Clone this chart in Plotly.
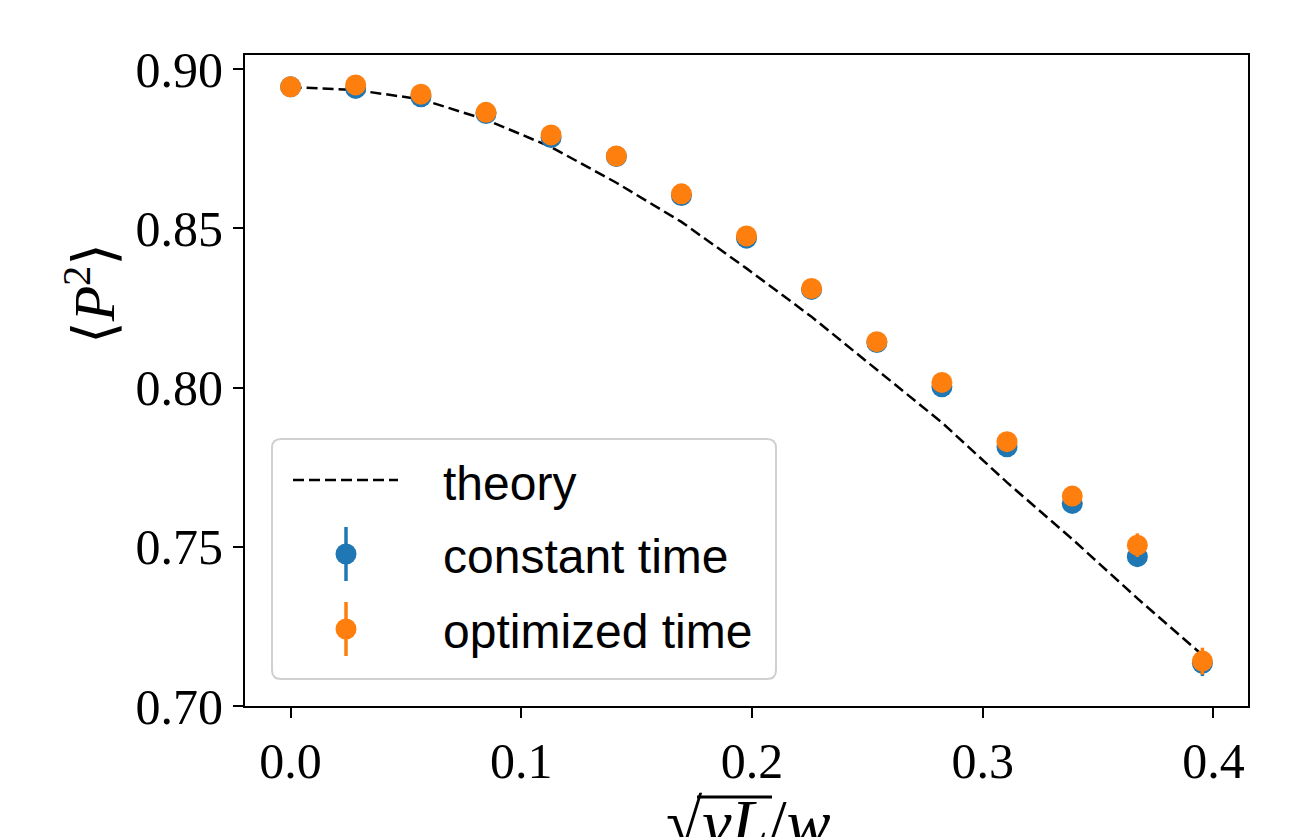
"""Mean squared polarisation versus sqrt(nu L)/w: theory against two time schemes."""

from __future__ import annotations

import plotly.graph_objects as go

# --- data ------------------------------------------------------------------
X_VALUES = [
    0.0000, 0.0282, 0.0565, 0.0847, 0.1129, 0.1412, 0.1694, 0.1976,
    0.2258, 0.2541, 0.2823, 0.3105, 0.3388, 0.3670, 0.3952,
]
THEORY = [
    0.8943, 0.8934, 0.8905, 0.8841, 0.8755, 0.8643, 0.8520, 0.8374,
    0.8222, 0.8057, 0.7890, 0.7702, 0.7524, 0.7338, 0.7160,
]
CONSTANT_TIME = [
    0.8944, 0.8939, 0.8913, 0.8860, 0.8785, 0.8725, 0.8603, 0.8469,
    0.8308, 0.8141, 0.8002, 0.7814, 0.7636, 0.7469, 0.7134,
]
CONSTANT_TIME_ERR = [
    0.0002, 0.0003, 0.0004, 0.0005, 0.0006, 0.0008, 0.0009, 0.0011,
    0.0013, 0.0015, 0.0018, 0.0021, 0.0025, 0.0031, 0.0040,
]
OPTIMIZED_TIME = [
    0.8944, 0.8950, 0.8921, 0.8864, 0.8793, 0.8727, 0.8608, 0.8476,
    0.8311, 0.8144, 0.8016, 0.7830, 0.7659, 0.7505, 0.7141,
]
OPTIMIZED_TIME_ERR = [
    0.0001, 0.0001, 0.0003, 0.0004, 0.0005, 0.0007, 0.0008, 0.0010,
    0.0012, 0.0014, 0.0017, 0.0020, 0.0024, 0.0037, 0.0042,
]
X_TICKS = [0.0, 0.1, 0.2, 0.3, 0.4]
Y_TICKS = [0.70, 0.75, 0.80, 0.85, 0.90]

LEGEND_LABELS = ["theory", "constant time", "optimized time"]

# --- styling ----------------------------------------------------------------
_BLUE = "#1f77b4"
_ORANGE = "#ff7f0e"
# the page body adds an 8px margin, so the figure itself is 8px smaller
_PAGE_OFFSET = 8
_WIDTH, _HEIGHT = 1312 - _PAGE_OFFSET, 837 - _PAGE_OFFSET
# plot area in screenshot pixels
_LEFT, _RIGHT, _TOP, _BOTTOM = 245, 1248, 55, 706
_SERIF = "Liberation Serif, DejaVu Serif, serif"
_SANS = "Liberation Sans, Arial, sans-serif"
_TICK_SIZE = 50
_LEGEND_SIZE = 48
_MARKER_SIZE = 21
_DASH = "11px,5px"


def _px(x: float) -> float:
    """Screenshot pixel column -> paper x."""
    return (x - _LEFT) / (_RIGHT - _LEFT)


def _py(y: float) -> float:
    """Screenshot pixel row -> paper y."""
    return (_BOTTOM - y) / (_BOTTOM - _TOP)


def _rounded_box(x0: float, y0: float, x1: float, y1: float, r: float) -> str:
    # pixel corners in, paper-space svg path out
    pts = [
        ("M", x0 + r, y0), ("L", x1 - r, y0), ("Q", x1, y0, x1, y0 + r),
        ("L", x1, y1 - r), ("Q", x1, y1, x1 - r, y1), ("L", x0 + r, y1),
        ("Q", x0, y1, x0, y1 - r), ("L", x0, y0 + r), ("Q", x0, y0, x0 + r, y0),
    ]
    parts = []
    for cmd, *coords in pts:
        xy = []
        for i in range(0, len(coords), 2):
            xy.append(f"{_px(coords[i]):.5f},{_py(coords[i + 1]):.5f}")
        parts.append(cmd + " ".join(xy))
    return " ".join(parts) + " Z"


def _paper_line(x0, y0, x1, y1, color, width, dash=None) -> dict:
    line = {"color": color, "width": width}
    if dash:
        line["dash"] = dash
    return {
        "type": "line",
        "xref": "paper",
        "yref": "paper",
        "x0": _px(x0),
        "x1": _px(x1),
        "y0": _py(y0),
        "y1": _py(y1),
        "line": line,
    }


def _legend_shapes() -> list[dict]:
    shapes = [
        {
            "type": "path",
            "xref": "paper",
            "yref": "paper",
            "path": _rounded_box(272, 439, 776, 679, 9),
            "line": {"color": "#d0d0d0", "width": 2},
            "fillcolor": "rgba(255,255,255,0.8)",
        },
        _paper_line(293, 480, 398, 480, "black", 2.5, _DASH),
    ]
    for cy, color in ((554, _BLUE), (629, _ORANGE)):
        shapes.append(_paper_line(346, cy + 27, 346, cy - 27, color, 3.5))
        shapes.append(
            {
                "type": "circle",
                "xref": "paper",
                "yref": "paper",
                "x0": _px(346 - 10.5),
                "x1": _px(346 + 10.5),
                "y0": _py(cy + 10.5),
                "y1": _py(cy - 10.5),
                "fillcolor": color,
                "line": {"width": 0},
            }
        )
    # overline of the square root in the x title
    shapes.append(_paper_line(697, 797, 772, 797, "black", 3))
    return shapes


def _legend_annotations() -> list[dict]:
    return [
        {
            "text": label,
            "xref": "paper",
            "yref": "paper",
            "x": _px(441),
            "y": _py(cy),
            "xanchor": "left",
            "yanchor": "middle",
            "showarrow": False,
            "font": {"family": _SANS, "size": _LEGEND_SIZE, "color": "black"},
        }
        for label, cy in zip(LEGEND_LABELS, (483, 556, 631), strict=True)
    ]


def _axis_titles() -> list[dict]:
    return [
        {
            "text": "⟨<i>P</i><sup>2</sup>⟩",
            "xref": "paper",
            "yref": "paper",
            "x": _px(90),
            "y": _py(294),
            "xanchor": "center",
            "yanchor": "middle",
            "textangle": -90,
            "showarrow": False,
            "font": {"family": _SERIF, "size": 58, "color": "black"},
        },
        {
            "text": "√<i>νL</i>/<i>w</i>",
            "xref": "paper",
            "yref": "paper",
            "x": _px(748),
            "y": _py(784),
            "xanchor": "center",
            "yanchor": "top",
            "showarrow": False,
            "font": {"family": _SERIF, "size": 66, "color": "black"},
        },
    ]


def build_figure() -> go.Figure:
    fig = go.Figure()
    fig.add_trace(
        go.Scatter(
            x=X_VALUES,
            y=THEORY,
            mode="lines",
            name=LEGEND_LABELS[0],
            line={"color": "black", "width": 2.5, "dash": _DASH},
        )
    )
    for values, errors, color, label in (
        (CONSTANT_TIME, CONSTANT_TIME_ERR, _BLUE, LEGEND_LABELS[1]),
        (OPTIMIZED_TIME, OPTIMIZED_TIME_ERR, _ORANGE, LEGEND_LABELS[2]),
    ):
        fig.add_trace(
            go.Scatter(
                x=X_VALUES,
                y=values,
                mode="markers",
                name=label,
                marker={"color": color, "size": _MARKER_SIZE, "line": {"width": 0}},
                error_y={
                    "type": "data",
                    "array": errors,
                    "color": color,
                    "thickness": 3.5,
                    "width": 0,
                },
            )
        )

    axis_common = dict(
        showline=True,
        mirror=True,
        linecolor="black",
        linewidth=2,
        showgrid=False,
        zeroline=False,
        ticks="outside",
        ticklen=10,
        tickwidth=2,
        tickcolor="black",
        tickfont={"family": _SERIF, "size": _TICK_SIZE, "color": "black"},
    )
    fig.update_xaxes(
        range=[-0.01976, 0.41496],
        tickvals=X_TICKS,
        tickformat=".1f",
        **axis_common,
    )
    fig.update_yaxes(
        range=[0.700, 0.9044],
        tickvals=Y_TICKS,
        tickformat=".2f",
        **axis_common,
    )
    fig.update_layout(
        width=_WIDTH,
        height=_HEIGHT,
        margin=dict(
            l=_LEFT - _PAGE_OFFSET,
            r=1312 - _RIGHT,
            t=_TOP - _PAGE_OFFSET,
            b=837 - _BOTTOM,
        ),
        plot_bgcolor="white",
        paper_bgcolor="white",
        showlegend=False,
        shapes=_legend_shapes(),
        annotations=_axis_titles() + _legend_annotations(),
    )
    return fig


fig = build_figure()
fig.write_html("out.html")
